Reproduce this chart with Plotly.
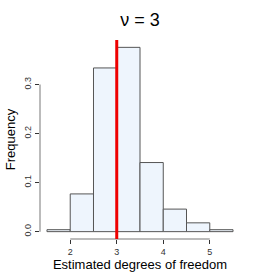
import plotly.graph_objects as go

bin_left = [1.5, 2.0, 2.5, 3.0, 3.5, 4.0, 4.5, 5.0]
bin_width = 0.5
frequency = [0.004, 0.077, 0.334, 0.376, 0.141, 0.046, 0.018, 0.004]
true_df = 3
x_ticks = [2, 3, 4, 5]
y_ticks = [0.0, 0.1, 0.2, 0.3]
y_tick_labels = ["0.0", "0.1", "0.2", "0.3"]

FONT = "Liberation Sans, Arial, sans-serif"

fig = go.Figure()
fig.add_trace(go.Bar(
    x=bin_left, y=frequency, width=bin_width, offset=0,
    marker=dict(color="#EEF5FD", line=dict(color="#555555", width=1)),
    showlegend=False, hoverinfo="skip",
))

fig.update_layout(
    width=280, height=280,
    margin=dict(l=40, r=40, t=40, b=41, autoexpand=False),
    paper_bgcolor="white", plot_bgcolor="white",
    bargap=0,
    title=dict(text="ν = 3", x=0.5, xanchor="center", y=0.93, yanchor="middle",
               xref="paper", yref="container",
               font=dict(family=FONT, size=18, color="black")),
    xaxis=dict(range=[1.35, 5.65], showgrid=False, zeroline=False, showline=False,
               automargin=False,
               tickmode="array", tickvals=x_ticks, ticktext=[str(v) for v in x_ticks],
               ticks="outside", ticklen=4, tickcolor="#333333", tickwidth=1,
               tickfont=dict(family=FONT, size=9, color="#333333"),
               title=dict(text="Estimated degrees of freedom", standoff=2,
                          font=dict(family=FONT, size=13, color="black"))),
    yaxis=dict(range=[-0.015, 0.391], showgrid=False, zeroline=False, showline=False,
               automargin=False,
               tickmode="array", tickvals=y_ticks, ticktext=y_tick_labels,
               ticks="outside", ticklen=4, tickcolor="#333333", tickwidth=1,
               tickangle=-90,
               tickfont=dict(family=FONT, size=9, color="#333333"),
               title=dict(text="Frequency", standoff=4,
                          font=dict(family=FONT, size=13, color="black"))),
)

# R-style axis lines spanning first to last tick
fig.add_shape(type="line", xref="x", yref="paper", x0=x_ticks[0], x1=x_ticks[-1], y0=0, y1=0,
              line=dict(color="#BBBBBB", width=2))
fig.add_shape(type="line", xref="paper", yref="y", x0=0, x1=0, y0=y_ticks[0], y1=y_ticks[-1],
              line=dict(color="#BBBBBB", width=2))
# true value
fig.add_shape(type="line", xref="x", yref="paper", x0=true_df, x1=true_df, y0=0, y1=1,
              line=dict(color="#EE0000", width=3))

fig.write_html("out.html", config={"displayModeBar": False, "staticPlot": True},
               post_script="document.body.style.margin='0px';document.body.style.overflow='hidden';")
